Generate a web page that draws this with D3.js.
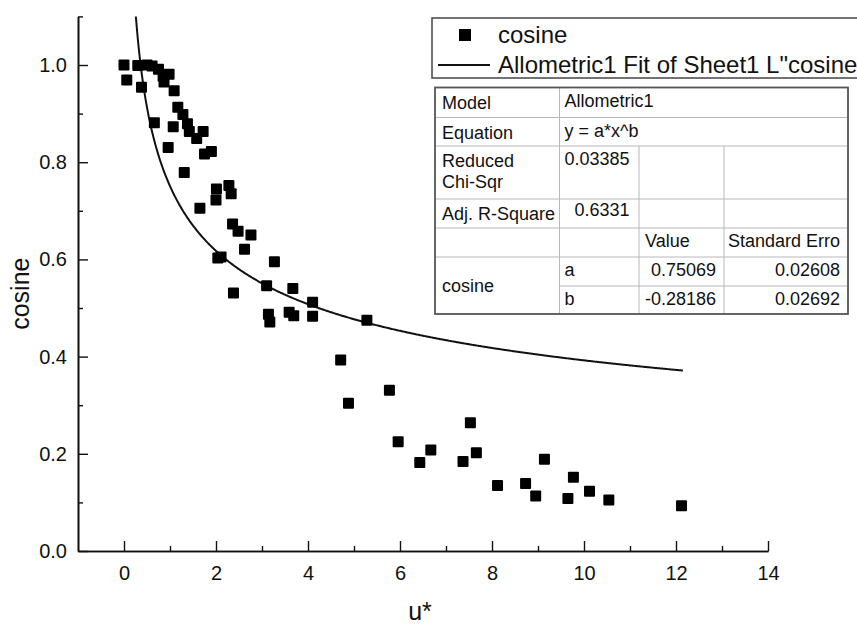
<!DOCTYPE html>
<html>
<head>
<meta charset="utf-8">
<script src="https://cdn.jsdelivr.net/npm/d3@7"></script>
<style>
  html, body { margin: 0; padding: 0; background: #fff; overflow: hidden; }
  svg { display: block; font-family: Arial, "Liberation Sans", Helvetica, sans-serif; }
</style>
</head>
<body>
<svg id="chart" width="857" height="626"></svg>
<script>
// Measured u* values and their cosine
const uValues = [0.00, 0.06, 0.30, 0.38, 0.50, 0.61, 0.75, 0.85, 0.87, 0.98,
                 1.09, 0.66, 1.17, 1.28, 1.07, 1.38, 1.42, 1.72, 1.58, 0.96,
                 1.75, 1.90, 1.31, 2.01, 2.28, 2.33, 2.00, 1.65, 2.36, 2.48,
                 2.76, 2.62, 2.04, 2.11, 3.27, 2.38, 3.10, 3.67, 4.10, 3.14,
                 3.17, 3.59, 3.69, 4.10, 5.28, 4.71, 4.88, 5.77, 5.96, 6.67,
                 6.43, 7.53, 7.66, 7.37, 9.14, 8.12, 8.73, 8.95, 9.77, 9.65,
                 10.12, 10.54, 12.12];
const cosineValues = [1.000, 0.969, 0.999, 0.954, 1.000, 0.998, 0.991, 0.977, 0.965, 0.981,
                      0.947, 0.881, 0.913, 0.898, 0.873, 0.879, 0.863, 0.863, 0.849, 0.830,
                      0.817, 0.822, 0.779, 0.745, 0.752, 0.735, 0.722, 0.705, 0.673, 0.658,
                      0.650, 0.621, 0.603, 0.605, 0.595, 0.531, 0.546, 0.540, 0.512, 0.487,
                      0.471, 0.491, 0.484, 0.483, 0.475, 0.393, 0.304, 0.331, 0.225, 0.208,
                      0.182, 0.264, 0.202, 0.184, 0.189, 0.135, 0.139, 0.113, 0.152, 0.108,
                      0.123, 0.105, 0.093];

// Allometric1 fit parameters (y = a*x^b)
const fitA = 0.75069;
const fitB = -0.28186;
const fitRange = [0.2, 12.15];

// Axis ticks
const xMajorTicks = [0, 2, 4, 6, 8, 10, 12, 14];
const xMinorTicks = [1, 3, 5, 7, 9, 11, 13];
const yMajorTicks = [0.0, 0.2, 0.4, 0.6, 0.8, 1.0];
const yMinorTicks = [0.1, 0.3, 0.5, 0.7, 0.9, 1.1];

// Fit statistics table
const tableRows = [
  ["Model", "Allometric1"],
  ["Equation", "y = a*x^b"],
  ["Reduced\nChi-Sqr", "0.03385"],
  ["Adj. R-Square", "0.6331"]
];
const paramHeader = ["Value", "Standard Erro"];
const paramGroup = "cosine";
const paramNames = ["a", "b"];
const paramValues = ["0.75069", "-0.28186"];
const paramErrors = ["0.02608", "0.02692"];

const svg = d3.select("#chart");

const x = d3.scaleLinear().domain([-1, 14]).range([78, 768]);
const y = d3.scaleLinear().domain([0, 1.1]).range([551, 16.4]);

// clip region for the plot area
svg.append("defs").append("clipPath").attr("id", "plotClip")
  .append("rect")
  .attr("x", x(-1)).attr("y", y(1.1))
  .attr("width", x(14) - x(-1)).attr("height", y(0) - y(1.1));

// Axes
const fmtY = d3.format(".1f");
const xAxis = svg.append("g").attr("transform", `translate(0,${y(0)})`)
  .call(d3.axisBottom(x).tickValues(xMajorTicks).tickSize(-10).tickSizeOuter(0).tickPadding(15));
const xMinor = svg.append("g").attr("transform", `translate(0,${y(0)})`)
  .call(d3.axisBottom(x).tickValues(xMinorTicks).tickSize(-5).tickSizeOuter(0).tickFormat(""));
const yAxis = svg.append("g").attr("transform", `translate(${x(-1)},0)`)
  .call(d3.axisLeft(y).tickValues(yMajorTicks).tickSize(-10).tickSizeOuter(0).tickPadding(11).tickFormat(fmtY));
const yMinor = svg.append("g").attr("transform", `translate(${x(-1)},0)`)
  .call(d3.axisLeft(y).tickValues(yMinorTicks).tickSize(-5).tickSizeOuter(0).tickFormat(""));

[xAxis, xMinor, yAxis, yMinor].forEach(g => {
  g.selectAll("path.domain").attr("stroke", "#111").attr("stroke-width", 1.6);
  g.selectAll(".tick line").attr("stroke", "#111").attr("stroke-width", 1.4);
  g.selectAll(".tick text").attr("font-size", 20).attr("fill", "#111")
    .attr("font-family", "Arial, 'Liberation Sans', sans-serif");
});

// Axis titles
svg.append("text")
  .attr("x", 420).attr("y", 620)
  .attr("text-anchor", "middle")
  .attr("font-size", 25).attr("fill", "#111")
  .text("u*");
svg.append("text")
  .attr("transform", `translate(29,${(y(0) + y(1.1)) / 2 + 10}) rotate(-90)`)
  .attr("text-anchor", "middle")
  .attr("font-size", 25).attr("fill", "#111")
  .text("cosine");

// Fit curve
const fitPoints = d3.range(fitRange[0], fitRange[1] + 1e-9, 0.02).concat([fitRange[1]])
  .map(u => [u, fitA * Math.pow(u, fitB)]);
svg.append("path")
  .datum(fitPoints)
  .attr("clip-path", "url(#plotClip)")
  .attr("fill", "none")
  .attr("stroke", "#111")
  .attr("stroke-width", 2)
  .attr("d", d3.line().x(d => x(d[0])).y(d => y(d[1])));

// Data squares
const sq = 11;
svg.append("g").selectAll("rect")
  .data(uValues.map((u, i) => [u, cosineValues[i]]))
  .join("rect")
  .attr("x", d => x(d[0]) - sq / 2)
  .attr("y", d => y(d[1]) - sq / 2)
  .attr("width", sq).attr("height", sq)
  .attr("rx", 1)
  .attr("fill", "#000");

// Legend
const legend = svg.append("g");
legend.append("rect")
  .attr("x", 432).attr("y", 18).attr("width", 460).attr("height", 60)
  .attr("fill", "#fff").attr("stroke", "#444").attr("stroke-width", 1.5);
legend.append("rect")
  .attr("x", 459).attr("y", 29).attr("width", 12).attr("height", 12).attr("fill", "#000");
legend.append("text")
  .attr("x", 498).attr("y", 43).attr("font-size", 24).attr("fill", "#111")
  .text("cosine");
legend.append("line")
  .attr("x1", 438).attr("x2", 490).attr("y1", 65).attr("y2", 65)
  .attr("stroke", "#111").attr("stroke-width", 2);
legend.append("text")
  .attr("x", 498).attr("y", 73).attr("font-size", 24).attr("fill", "#111")
  .text('Allometric1 Fit of Sheet1 L"cosine');

// Table
const tbl = svg.append("g").attr("font-size", 18).attr("fill", "#111");
const colX = [435, 559.5, 639, 724, 848];
const rowY = [87.5, 117.5, 146, 199, 228, 257, 286, 314];
const inner = "#b8b8b8";

tbl.append("rect")
  .attr("x", colX[0]).attr("y", rowY[0])
  .attr("width", colX[4] - colX[0]).attr("height", rowY[7] - rowY[0])
  .attr("fill", "#fff");

function hline(x1, x2, yy) {
  tbl.append("line").attr("x1", x1).attr("x2", x2).attr("y1", yy).attr("y2", yy)
    .attr("stroke", inner).attr("stroke-width", 1);
}
function vline(xx, y1, y2) {
  tbl.append("line").attr("x1", xx).attr("x2", xx).attr("y1", y1).attr("y2", y2)
    .attr("stroke", inner).attr("stroke-width", 1);
}
// row separators
hline(colX[0], colX[4], rowY[1]);
hline(colX[0], colX[4], rowY[2]);
hline(colX[0], colX[4], rowY[3]);
hline(colX[0], colX[4], rowY[4]);
hline(colX[0], colX[4], rowY[5]);
hline(colX[1], colX[4], rowY[6]);
// column separators
vline(colX[1], rowY[0], rowY[7]);
vline(colX[2], rowY[2], rowY[7]);
vline(colX[3], rowY[2], rowY[7]);

tbl.append("rect")
  .attr("x", colX[0]).attr("y", rowY[0])
  .attr("width", colX[4] - colX[0]).attr("height", rowY[7] - rowY[0])
  .attr("fill", "none").attr("stroke", "#555").attr("stroke-width", 1.8);

// table text
tableRows.forEach((r, i) => {
  const lines = r[0].split("\n");
  lines.forEach((ln, k) => {
    tbl.append("text").attr("x", colX[0] + 7).attr("y", rowY[i] + 21 + k * 21).text(ln);
  });
  const valX = i === 3 ? colX[1] + 15 : colX[1] + 5;
  tbl.append("text").attr("x", valX).attr("y", rowY[i] + (i === 3 ? 17 : 19)).text(r[1]);
});
tbl.append("text").attr("x", colX[2] + 6).attr("y", rowY[4] + 19).text(paramHeader[0]);
tbl.append("text").attr("x", colX[3] + 4).attr("y", rowY[4] + 19).text(paramHeader[1]);
tbl.append("text").attr("x", colX[0] + 7).attr("y", (rowY[5] + rowY[7]) / 2 + 6).text(paramGroup);
paramNames.forEach((p, i) => {
  const base = rowY[5 + i] + 19;
  tbl.append("text").attr("x", colX[1] + 5).attr("y", base).text(p);
  tbl.append("text").attr("x", colX[3] - 8).attr("y", base).attr("text-anchor", "end").text(paramValues[i]);
  tbl.append("text").attr("x", colX[4] - 8).attr("y", base).attr("text-anchor", "end").text(paramErrors[i]);
});
</script>
</body>
</html>
